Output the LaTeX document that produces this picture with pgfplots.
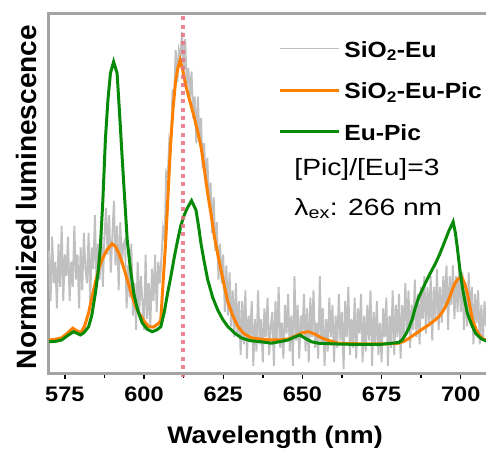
\documentclass[border=0pt]{standalone}
\usepackage{fontspec}
\setmainfont{Liberation Sans}[FakeStretch=1.12]
\newfontfamily\ylabfont{Liberation Sans}
\newfontfamily\annfont{Liberation Sans}[FakeStretch=1.2]
\usepackage{pgfplots}
\pgfplotsset{compat=1.18}
\definecolor{cgray}{HTML}{C0C0C0}
\definecolor{corange}{HTML}{FF8000}
\definecolor{cgreen}{HTML}{078A07}
\definecolor{cred}{HTML}{E57380}
\definecolor{cframe}{HTML}{A4A4A4}
\begin{document}
\begin{tikzpicture}
\useasboundingbox (-49pt,-77pt) rectangle (437pt,373pt);
\begin{axis}[at={(0pt,0pt)}, anchor=south west, scale only axis, width=439pt, height=359pt,
  xmin=570, xmax=708.6, ymin=0, ymax=1, clip=false,
  axis line style={draw=cframe, line width=3pt},
  ytick=\empty, xtick={575,600,...,700}, minor x tick num=1,
  tick align=outside, xtick pos=bottom,
  major tick length=6pt, minor tick length=5pt,
  major tick style={draw=black, line width=1.4pt},
  minor tick style={draw=black, line width=1.4pt},
  /pgf/number format/assume math mode=true,
  xticklabel style={font=\fontsize{21}{21}\selectfont\bfseries, anchor=base, yshift=-22pt},
  xlabel={Wavelength (nm)},
  every axis x label/.style={at={(axis description cs:0.515,0)}, anchor=base, yshift=-70pt, font=\fontsize{24}{24}\selectfont\bfseries},
  ylabel={Normalized luminescence},
  every axis y label/.style={at={(axis description cs:-0.0524,0.49)}, rotate=90, anchor=center, font=\ylabfont\fontsize{28}{28}\selectfont\bfseries},
  legend style={draw=none, fill=none, at={(rel axis cs:0.522,0.925)}, anchor=north west, inner sep=0pt, row sep=19.5pt,
    font=\fontsize{22}{22}\selectfont\bfseries, nodes={inner ysep=0pt, inner xsep=4pt, text height=16pt, text depth=6pt}},
  legend cell align=left,
  legend image code/.code={\draw[#1] (0pt,0.36em) -- (59pt,0.36em);},
]
\addplot[cgray, line width=1.9pt] coordinates {
(570.0,0.34) (570.5,0.20) (571.0,0.38) (571.5,0.25) (572.0,0.31) (572.5,0.18) (573.0,0.36) (573.5,0.24)
(574.0,0.41) (574.5,0.20) (575.0,0.33) (575.5,0.27) (576.0,0.38) (576.5,0.20) (577.0,0.31) (577.5,0.24)
(578.0,0.41) (578.5,0.26) (579.0,0.33) (579.5,0.18) (580.0,0.35) (580.5,0.23) (581.0,0.39) (581.5,0.29)
(582.0,0.25) (582.5,0.39) (583.0,0.20) (583.5,0.35) (584.0,0.29) (584.5,0.44) (585.0,0.25) (585.5,0.36)
(586.0,0.26) (586.5,0.41) (587.0,0.24) (587.5,0.38) (588.0,0.46) (588.5,0.33) (589.0,0.44) (589.5,0.28)
(590.0,0.38) (590.5,0.48) (591.0,0.30) (591.5,0.41) (592.0,0.23) (592.5,0.42) (593.0,0.30) (593.5,0.36)
(594.0,0.37) (594.5,0.18) (595.0,0.30) (595.5,0.21) (596.0,0.36) (596.5,0.16) (597.0,0.25) (597.5,0.12)
(598.0,0.31) (598.5,0.17) (599.0,0.27) (599.5,0.20) (600.0,0.12) (600.5,0.33) (601.0,0.15) (601.5,0.25)
(602.0,0.13) (602.5,0.29) (603.0,0.20) (603.5,0.33) (604.0,0.17) (604.5,0.31) (605.0,0.25) (605.5,0.32)
(606.0,0.40) (606.5,0.37) (607.0,0.56) (607.5,0.55) (608.0,0.65) (608.5,0.63) (609.0,0.79) (609.5,0.76)
(610.0,0.90) (610.5,0.81) (611.0,0.90) (611.5,0.88) (612.0,0.95) (612.5,0.84) (613.0,0.93) (613.5,0.80)
(614.0,0.85) (614.5,0.77) (615.0,0.84) (615.5,0.71) (616.0,0.77) (616.5,0.64) (617.0,0.77) (617.5,0.65)
(618.0,0.71) (618.5,0.57) (619.0,0.64) (619.5,0.52) (620.0,0.60) (620.5,0.47) (621.0,0.53) (621.5,0.39)
(622.0,0.49) (622.5,0.34) (623.0,0.42) (623.5,0.26) (624.0,0.36) (624.5,0.25) (625.0,0.33) (625.5,0.17)
(626.0,0.30) (626.5,0.16) (627.0,0.28) (627.5,0.13) (628.0,0.23) (628.5,0.10) (629.0,0.25) (629.5,0.11)
(630.0,0.20) (630.5,0.05) (631.0,0.20) (631.5,0.08) (632.0,0.23) (632.5,0.04) (633.0,0.16) (633.5,0.10)
(634.0,0.20) (634.5,0.02) (635.0,0.15) (635.5,0.06) (636.0,0.23) (636.5,0.08) (637.0,0.15) (637.5,0.03)
(638.0,0.18) (638.5,0.10) (639.0,0.21) (639.5,0.05) (640.0,0.13) (640.5,0.17) (641.0,0.02) (641.5,0.20)
(642.0,0.09) (642.5,0.24) (643.0,0.07) (643.5,0.14) (644.0,0.04) (644.5,0.19) (645.0,0.11) (645.5,0.22)
(646.0,0.06) (646.5,0.16) (647.0,0.02) (647.5,0.27) (648.0,0.09) (648.5,0.19) (649.0,0.04) (649.5,0.16)
(650.0,0.11) (650.5,0.22) (651.0,0.06) (651.5,0.18) (652.0,0.03) (652.5,0.21) (653.0,0.10) (653.5,0.23)
(654.0,0.07) (654.5,0.14) (655.0,0.04) (655.5,0.27) (656.0,0.08) (656.5,0.18) (657.0,0.02) (657.5,0.15)
(658.0,0.06) (658.5,0.21) (659.0,0.10) (659.5,0.19) (660.0,0.03) (660.5,0.16) (661.0,0.07) (661.5,0.22)
(662.0,0.09) (662.5,0.17) (663.0,0.01) (663.5,0.20) (664.0,0.10) (664.5,0.24) (665.0,0.05) (665.5,0.15)
(666.0,0.07) (666.5,0.21) (667.0,0.04) (667.5,0.18) (668.0,0.11) (668.5,0.22) (669.0,0.03) (669.5,0.16)
(670.0,0.06) (670.5,0.19) (671.0,0.09) (671.5,0.23) (672.0,0.02) (672.5,0.17) (673.0,0.08) (673.5,0.20)
(674.0,0.05) (674.5,0.14) (675.0,0.03) (675.5,0.18) (676.0,0.10) (676.5,0.21) (677.0,0.02) (677.5,0.16)
(678.0,0.07) (678.5,0.23) (679.0,0.05) (679.5,0.19) (680.0,0.10) (680.5,0.22) (681.0,0.04) (681.5,0.19)
(682.0,0.09) (682.5,0.25) (683.0,0.11) (683.5,0.23) (684.0,0.07) (684.5,0.19) (685.0,0.12) (685.5,0.26)
(686.0,0.10) (686.5,0.22) (687.0,0.08) (687.5,0.24) (688.0,0.15) (688.5,0.27) (689.0,0.11) (689.5,0.24)
(690.0,0.14) (690.5,0.27) (691.0,0.09) (691.5,0.24) (692.0,0.15) (692.5,0.29) (693.0,0.12) (693.5,0.24)
(694.0,0.14) (694.5,0.27) (695.0,0.18) (695.5,0.30) (696.0,0.12) (696.5,0.27) (697.0,0.19) (697.5,0.30)
(698.0,0.15) (698.5,0.27) (699.0,0.17) (699.5,0.31) (700.0,0.17) (700.5,0.28) (701.0,0.12) (701.5,0.25)
(702.0,0.13) (702.5,0.28) (703.0,0.15) (703.5,0.24) (704.0,0.08) (704.5,0.22) (705.0,0.14) (705.5,0.23)
(706.0,0.08) (706.5,0.19) (707.0,0.09) (707.5,0.20) (708.0,0.13) (708.5,0.21)
};
\addlegendentry{SiO\textsubscript{2}-Eu}
\addplot[corange, line width=3pt] coordinates {
(570,0.092) (572,0.094) (574,0.098) (576,0.112) (577.5,0.125) (578.7,0.118) (580,0.112) (581.2,0.13)
(582.5,0.167) (583.5,0.21) (584.6,0.25) (585.7,0.29) (586.7,0.315) (588.3,0.343) (589.9,0.36) (591,0.352)
(592,0.334) (593,0.31) (594.1,0.278) (595.2,0.245) (596.3,0.212) (597.3,0.187) (598.4,0.167) (600,0.145)
(601.5,0.129) (603,0.128) (604.7,0.139) (605.3,0.148) (606,0.25) (606.8,0.36) (607.6,0.50) (608.4,0.64)
(609.2,0.74) (610,0.816) (610.7,0.85) (611.4,0.872) (612.3,0.84) (613.2,0.80) (614.5,0.757) (615.8,0.714)
(617,0.67) (618,0.63) (619,0.57) (620.1,0.50) (621.2,0.44) (622.2,0.38) (623.3,0.33) (624.3,0.287)
(625.4,0.24) (626.4,0.20) (628,0.16) (629.6,0.13) (631.5,0.11) (633.8,0.098) (637,0.094) (640,0.092)
(643.3,0.092) (646,0.096) (648,0.104) (650,0.112) (651.8,0.115) (654,0.108) (656,0.098) (658.5,0.09)
(661.3,0.083) (665,0.082) (670,0.081) (675,0.081) (680.4,0.083) (682,0.088) (683.6,0.096) (685,0.105)
(686.7,0.115) (688.3,0.125) (689.9,0.134) (691.5,0.145) (693.1,0.157) (694.2,0.17) (695.2,0.185) (696.3,0.207)
(697.3,0.231) (698.1,0.248) (698.9,0.26) (700.3,0.268) (701.2,0.25) (702.1,0.222) (702.9,0.185) (703.7,0.148)
(704.8,0.122) (705.8,0.106) (707,0.095) (708.6,0.09)
};
\addlegendentry{SiO\textsubscript{2}-Eu-Pic}
\addplot[cgreen, line width=3pt] coordinates {
(570,0.087) (572,0.088) (574,0.092) (576,0.105) (577.7,0.115) (579,0.110) (579.9,0.106) (581,0.112)
(582.5,0.129) (583.5,0.16) (584.6,0.22) (585.5,0.28) (586.2,0.35) (587,0.48) (587.8,0.65) (588.6,0.76)
(589.4,0.835) (590.4,0.867) (591.5,0.835) (592.3,0.72) (593.1,0.60) (594,0.47) (594.7,0.37) (595.7,0.29)
(596.8,0.22) (598,0.175) (599.4,0.14) (601,0.122) (602.6,0.115) (604,0.12) (605.3,0.129) (606.4,0.17)
(607.4,0.22) (608.5,0.27) (609.5,0.32) (610.5,0.365) (611.6,0.41) (612.7,0.44) (613.7,0.46) (615,0.48)
(616.4,0.454) (617.2,0.41) (618,0.36) (619,0.31) (620.1,0.26) (621.7,0.21) (623.3,0.175) (624.8,0.15)
(626.4,0.13) (628.5,0.112) (630.7,0.098) (633.5,0.09) (637,0.087) (640.2,0.083) (643.3,0.088) (645.5,0.092)
(647.5,0.100) (649.2,0.106) (651,0.096) (652.9,0.087) (655,0.083) (660,0.081) (665,0.080) (670,0.080)
(675,0.080) (680.4,0.085) (681.5,0.092) (682.5,0.106) (683.6,0.125) (684.6,0.148) (685.6,0.18) (686.7,0.21)
(688.8,0.25) (690.5,0.28) (692,0.305) (693.3,0.33) (694.7,0.361) (696.2,0.395) (697.6,0.421) (698.3,0.39)
(698.9,0.35) (699.7,0.29) (700.5,0.24) (701.3,0.20) (702.1,0.166) (703.4,0.135) (704.7,0.11) (706.5,0.095)
(708.6,0.087)
};
\addlegendentry{Eu-Pic}
\addplot[cred, opacity=0.85, line width=4pt, dash pattern=on 4pt off 4.3pt, forget plot] coordinates {(612.2,-0.012) (612.2,1)};
\node[anchor=base west, font=\annfont\fontsize{23.5}{23.5}\selectfont] at (rel axis cs:0.551,0.550) {[Pic]/[Eu]=3};
\node[anchor=base west, font=\annfont\fontsize{23.5}{23.5}\selectfont] at (rel axis cs:0.551,0.440) {λ\textsubscript{ex}: 266 nm};
\end{axis}
\draw[cframe, line width=3pt] (0pt,0pt) -- (440pt,0pt);
\end{tikzpicture}
\end{document}
